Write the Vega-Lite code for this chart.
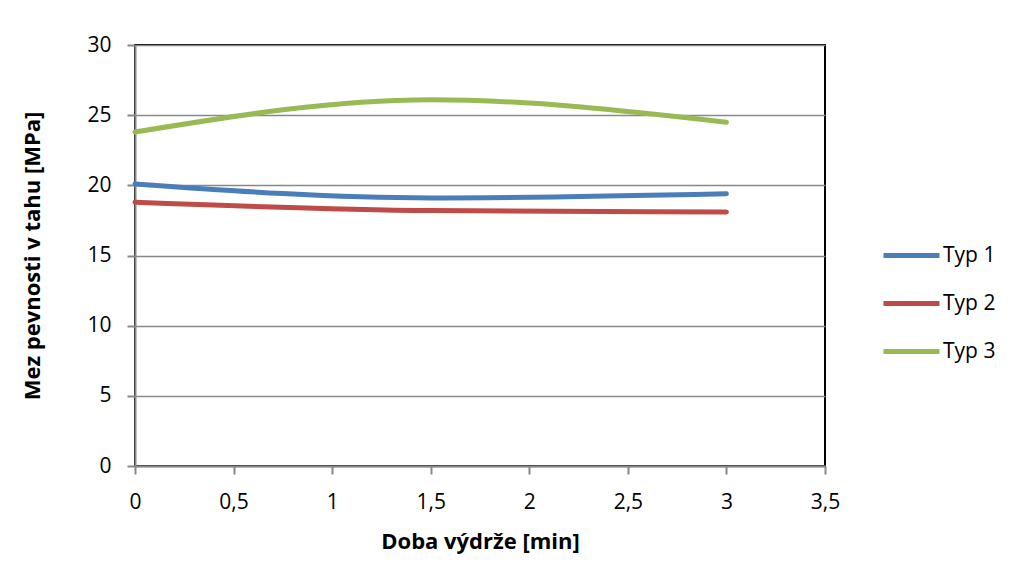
{
  "$schema": "https://vega.github.io/schema/vega-lite/v6.json",
  "width": 690,
  "height": 421,
  "autosize": "none",
  "padding": {"left": 135, "top": 45, "right": 190, "bottom": 115},
  "background": "white",
  "data": {
    "values": [
      {"t": 0, "v": 20.1, "s": "Typ 1"},
      {"t": 1.5, "v": 19.1, "s": "Typ 1"},
      {"t": 3, "v": 19.4, "s": "Typ 1"},
      {"t": 0, "v": 18.8, "s": "Typ 2"},
      {"t": 1.5, "v": 18.2, "s": "Typ 2"},
      {"t": 3, "v": 18.1, "s": "Typ 2"},
      {"t": 0, "v": 23.8, "s": "Typ 3"},
      {"t": 1.5, "v": 26.1, "s": "Typ 3"},
      {"t": 3, "v": 24.5, "s": "Typ 3"}
    ]
  },
  "mark": {"type": "line", "interpolate": "monotone", "strokeWidth": 5, "strokeCap": "round"},
  "encoding": {
    "x": {
      "field": "t", "type": "quantitative",
      "scale": {"domain": [0, 3.5], "nice": false, "zero": true},
      "axis": {
        "title": "Doba výdrže [min]",
        "values": [0, 0.5, 1, 1.5, 2, 2.5, 3, 3.5],
        "labelExpr": "replace(format(datum.value, '~g'), '.', ',')",
        "grid": false,
        "labelFlush": false,
        "labelPadding": 17,
        "titlePadding": 19
      }
    },
    "y": {
      "field": "v", "type": "quantitative",
      "scale": {"domain": [0, 30], "nice": false},
      "axis": {
        "title": "Mez pevnosti v tahu [MPa]",
        "values": [0, 5, 10, 15, 20, 25, 30],
        "grid": true,
        "labelFlush": false,
        "labelPadding": 16,
        "titlePadding": 42
      }
    },
    "color": {
      "field": "s", "type": "nominal",
      "scale": {"domain": ["Typ 1", "Typ 2", "Typ 3"], "range": ["#4A7EBB", "#BE4B48", "#98B954"]},
      "legend": {
        "title": null,
        "orient": "none",
        "legendX": 746,
        "legendY": 180,
        "symbolType": "stroke",
        "symbolSize": 3136,
        "symbolStrokeWidth": 5,
        "labelOffset": 1,
        "rowPadding": 7
      }
    }
  },
  "config": {
    "view": {"stroke": "#000000", "strokeWidth": 2},
    "axis": {
      "domainColor": "#888888",
      "domainWidth": 2,
      "tickColor": "#888888",
      "tickWidth": 2,
      "tickSize": 8,
      "gridColor": "#888888",
      "gridWidth": 1.5,
      "labelFont": "Open Sans",
      "labelFontSize": 21,
      "labelColor": "#000000",
      "titleFont": "Open Sans",
      "titleFontSize": 22,
      "titleFontWeight": "bold",
      "titleColor": "#000000"
    },
    "legend": {
      "labelFont": "Open Sans",
      "labelFontSize": 21,
      "labelColor": "#000000"
    }
  }
}
